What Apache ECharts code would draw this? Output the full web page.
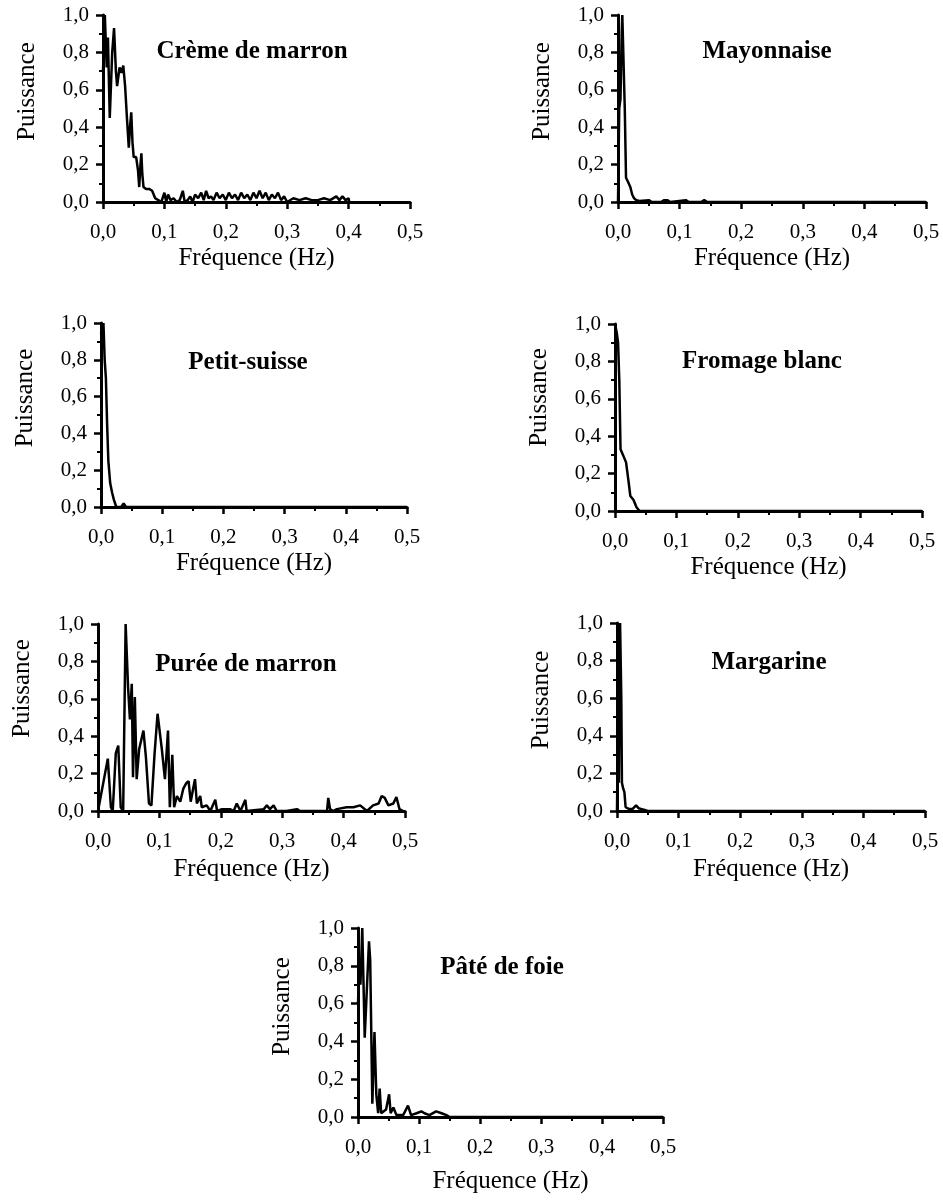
<!DOCTYPE html>
<html><head><meta charset="utf-8">
<script src="https://cdn.jsdelivr.net/npm/echarts@6/dist/echarts.min.js"></script>
<style>html,body{margin:0;padding:0;background:#fff}#c{width:943px;height:1201px}</style>
</head><body><div id="c"></div>
<script>
const panelTitles = ["Crème de marron","Mayonnaise","Petit-suisse","Fromage blanc","Purée de marron","Margarine","Pâté de foie"];
const xTickValues = [0, 0.1, 0.2, 0.3, 0.4, 0.5];
const yTickValues = [0, 0.2, 0.4, 0.6, 0.8, 1.0];
const xAxisName = "Fréquence (Hz)";
const yAxisName = "Puissance";

const cremeDeMarron = [[0,0.7],[0.003,1.0],[0.006,0.72],[0.008,0.88],[0.011,0.45],[0.015,0.8],[0.018,0.93],[0.021,0.7],[0.023,0.62],[0.027,0.72],[0.030,0.69],[0.033,0.73],[0.036,0.62],[0.039,0.45],[0.042,0.29],[0.044,0.4],[0.046,0.48],[0.048,0.32],[0.050,0.24],[0.054,0.24],[0.057,0.17],[0.059,0.08],[0.061,0.2],[0.0625,0.26],[0.064,0.15],[0.066,0.08],[0.070,0.07],[0.075,0.07],[0.080,0.06],[0.085,0.02],[0.09,0.01],[0.095,0.0],[0.1,0.05],[0.103,0.0],[0.106,0.04],[0.11,0.01],[0.115,0.02],[0.12,0.0],[0.125,0.01],[0.13,0.06],[0.133,0.0],[0.138,0.01],[0.142,0.03],[0.146,0.0],[0.15,0.04],[0.155,0.02],[0.16,0.05],[0.164,0.01],[0.168,0.06],[0.172,0.02],[0.176,0.03],[0.18,0.01],[0.185,0.05],[0.19,0.02],[0.195,0.04],[0.2,0.01],[0.205,0.05],[0.21,0.02],[0.215,0.04],[0.22,0.01],[0.225,0.05],[0.23,0.02],[0.235,0.04],[0.24,0.01],[0.245,0.05],[0.25,0.02],[0.255,0.06],[0.26,0.02],[0.265,0.05],[0.27,0.01],[0.275,0.04],[0.28,0.02],[0.285,0.05],[0.29,0.01],[0.295,0.03],[0.3,0.0],[0.31,0.02],[0.32,0.01],[0.33,0.02],[0.34,0.01],[0.35,0.01],[0.36,0.02],[0.37,0.01],[0.38,0.03],[0.385,0.01],[0.39,0.03],[0.395,0.01],[0.4,0.02],[0.401,0.0]];

const mayonnaise = [[0,0],[0.002,0.5],[0.004,0.55],[0.006,0.9],[0.007,1.0],[0.009,1.0],[0.011,0.5],[0.013,0.13],[0.016,0.11],[0.02,0.08],[0.023,0.04],[0.026,0.02],[0.03,0.01],[0.035,0.005],[0.05,0.01],[0.055,0.0],[0.07,0.0],[0.075,0.01],[0.08,0.01],[0.085,0.0],[0.11,0.01],[0.115,0.0],[0.135,0.0],[0.14,0.01],[0.145,0.0],[0.5,0]];

const petitSuisse = [[0,0.95],[0.002,0.9],[0.004,1.0],[0.006,0.8],[0.008,0.7],[0.010,0.45],[0.012,0.25],[0.015,0.13],[0.018,0.08],[0.021,0.04],[0.025,0.0],[0.033,0.0],[0.037,0.02],[0.041,0.0],[0.5,0]];

const fromageBlanc = [[0,1.0],[0.003,0.95],[0.005,0.9],[0.007,0.7],[0.009,0.33],[0.013,0.30],[0.018,0.26],[0.022,0.16],[0.025,0.08],[0.03,0.06],[0.035,0.02],[0.04,0.0],[0.5,0]];

const pureeDeMarron = [[0,0],[0.003,0.0],[0.016,0.28],[0.021,0.02],[0.024,0.0],[0.029,0.31],[0.033,0.35],[0.037,0.02],[0.041,0.0],[0.045,1.0],[0.049,0.66],[0.052,0.49],[0.055,0.68],[0.057,0.18],[0.060,0.61],[0.063,0.17],[0.067,0.33],[0.074,0.43],[0.078,0.29],[0.083,0.04],[0.087,0.03],[0.092,0.3],[0.097,0.52],[0.104,0.33],[0.109,0.17],[0.114,0.43],[0.117,0.02],[0.121,0.3],[0.124,0.02],[0.1285,0.08],[0.134,0.05],[0.139,0.12],[0.144,0.15],[0.1475,0.16],[0.151,0.05],[0.155,0.12],[0.158,0.17],[0.161,0.04],[0.1665,0.08],[0.169,0.02],[0.177,0.03],[0.183,0.0],[0.191,0.06],[0.194,0.0],[0.202,0.01],[0.215,0.01],[0.221,0.0],[0.226,0.04],[0.232,0.0],[0.240,0.06],[0.242,0.0],[0.270,0.01],[0.275,0.03],[0.280,0.01],[0.286,0.03],[0.291,0.0],[0.307,0.0],[0.324,0.01],[0.329,0.0],[0.343,0.0],[0.373,0.0],[0.375,0.07],[0.378,0.01],[0.383,0.0],[0.389,0.01],[0.405,0.02],[0.416,0.02],[0.427,0.03],[0.438,0.0],[0.448,0.03],[0.457,0.04],[0.462,0.08],[0.467,0.07],[0.473,0.03],[0.481,0.04],[0.486,0.075],[0.491,0.01],[0.497,0.0]];

const margarine = [[0,0],[0.002,0.65],[0.003,0.15],[0.005,1.0],[0.007,0.6],[0.008,0.15],[0.010,0.12],[0.012,0.10],[0.014,0.02],[0.02,0.01],[0.025,0.01],[0.031,0.03],[0.035,0.015],[0.04,0.01],[0.045,0.005],[0.05,0],[0.5,0]];

const pateDeFoie = [[0,0.6],[0.002,0.8],[0.004,0.7],[0.007,1.0],[0.011,0.42],[0.015,0.71],[0.018,0.93],[0.020,0.83],[0.0235,0.07],[0.027,0.45],[0.030,0.12],[0.033,0.02],[0.0355,0.15],[0.038,0.02],[0.041,0.01],[0.046,0.04],[0.051,0.12],[0.0535,0.02],[0.058,0.05],[0.063,0.01],[0.074,0.01],[0.082,0.06],[0.087,0.01],[0.096,0.02],[0.104,0.03],[0.109,0.02],[0.117,0.01],[0.128,0.03],[0.137,0.02],[0.145,0.01],[0.15,0],[0.5,0]];

const seriesData = [cremeDeMarron, mayonnaise, petitSuisse, fromageBlanc, pureeDeMarron, margarine, pateDeFoie];

// layout (pixels)
const grids = [
  {left:103, top:15, width:307, height:187},
  {left:618, top:15, width:308, height:187},
  {left:101, top:323, width:306, height:184},
  {left:615, top:324, width:307, height:187},
  {left:98, top:624, width:307, height:187},
  {left:617, top:623, width:308, height:188},
  {left:358, top:928, width:305, height:189}
];
const titlePos = [[252,39],[767,39],[248,350],[762,349],[246,652],[769,650],[502,955]];
const nameShift = [17,17,17,20,29,17,16];
const xNameGap = [44,44,44,44,46,46,52];

const FONT = '"Liberation Serif","DejaVu Serif",serif';
const fmt = v => v.toFixed(1).replace('.', ',');

const option = {
  animation:false,
  backgroundColor:'#fff',
  title: panelTitles.map((t,i)=>({text:t, left:titlePos[i][0], top:titlePos[i][1], textAlign:'center', padding:0,
    textStyle:{fontFamily:FONT, fontWeight:'bold', fontSize:25, color:'#000'}})),
  grid: grids.map(g=>Object.assign({containLabel:false}, g)),
  xAxis: grids.map((g,i)=>({type:'value', gridIndex:i, min:xTickValues[0], max:xTickValues[xTickValues.length-1], interval:0.1,
    name:xAxisName, nameLocation:'middle', nameGap:xNameGap[i],
    nameTextStyle:{fontFamily:FONT, fontSize:25, color:'#000'},
    axisLine:{onZero:false, lineStyle:{color:'#000', width:3}},
    axisTick:{show:true, inside:false, length:7, lineStyle:{color:'#000', width:2.5}},
    minorTick:{show:true, splitNumber:2, length:4, lineStyle:{color:'#000', width:2}},
    splitLine:{show:false},
    axisLabel:{margin:20, fontFamily:FONT, fontSize:21, color:'#000', formatter:fmt}})),
  yAxis: grids.map((g,i)=>({type:'value', gridIndex:i, min:yTickValues[0], max:yTickValues[yTickValues.length-1], interval:0.2,
    name:yAxisName, nameLocation:'middle', nameGap:63,
    nameTextStyle:{fontFamily:FONT, fontSize:25, color:'#000', padding:[0,0,0,2*nameShift[i]]},
    axisLine:{onZero:false, lineStyle:{color:'#000', width:3}},
    axisTick:{show:true, inside:false, length:7, lineStyle:{color:'#000', width:2.5}},
    minorTick:{show:true, splitNumber:2, length:4, lineStyle:{color:'#000', width:2}},
    splitLine:{show:false},
    axisLabel:{margin:14, fontFamily:FONT, fontSize:21, color:'#000', formatter:fmt}})),
  series: seriesData.map((d,i)=>({type:'line', xAxisIndex:i, yAxisIndex:i, data:d, showSymbol:false, symbol:'none',
    clip:true, lineStyle:{color:'#000', width:2.5}}))
};
const chart = echarts.init(document.getElementById('c'), null, {renderer:'canvas'});
chart.setOption(option);
</script></body></html>
